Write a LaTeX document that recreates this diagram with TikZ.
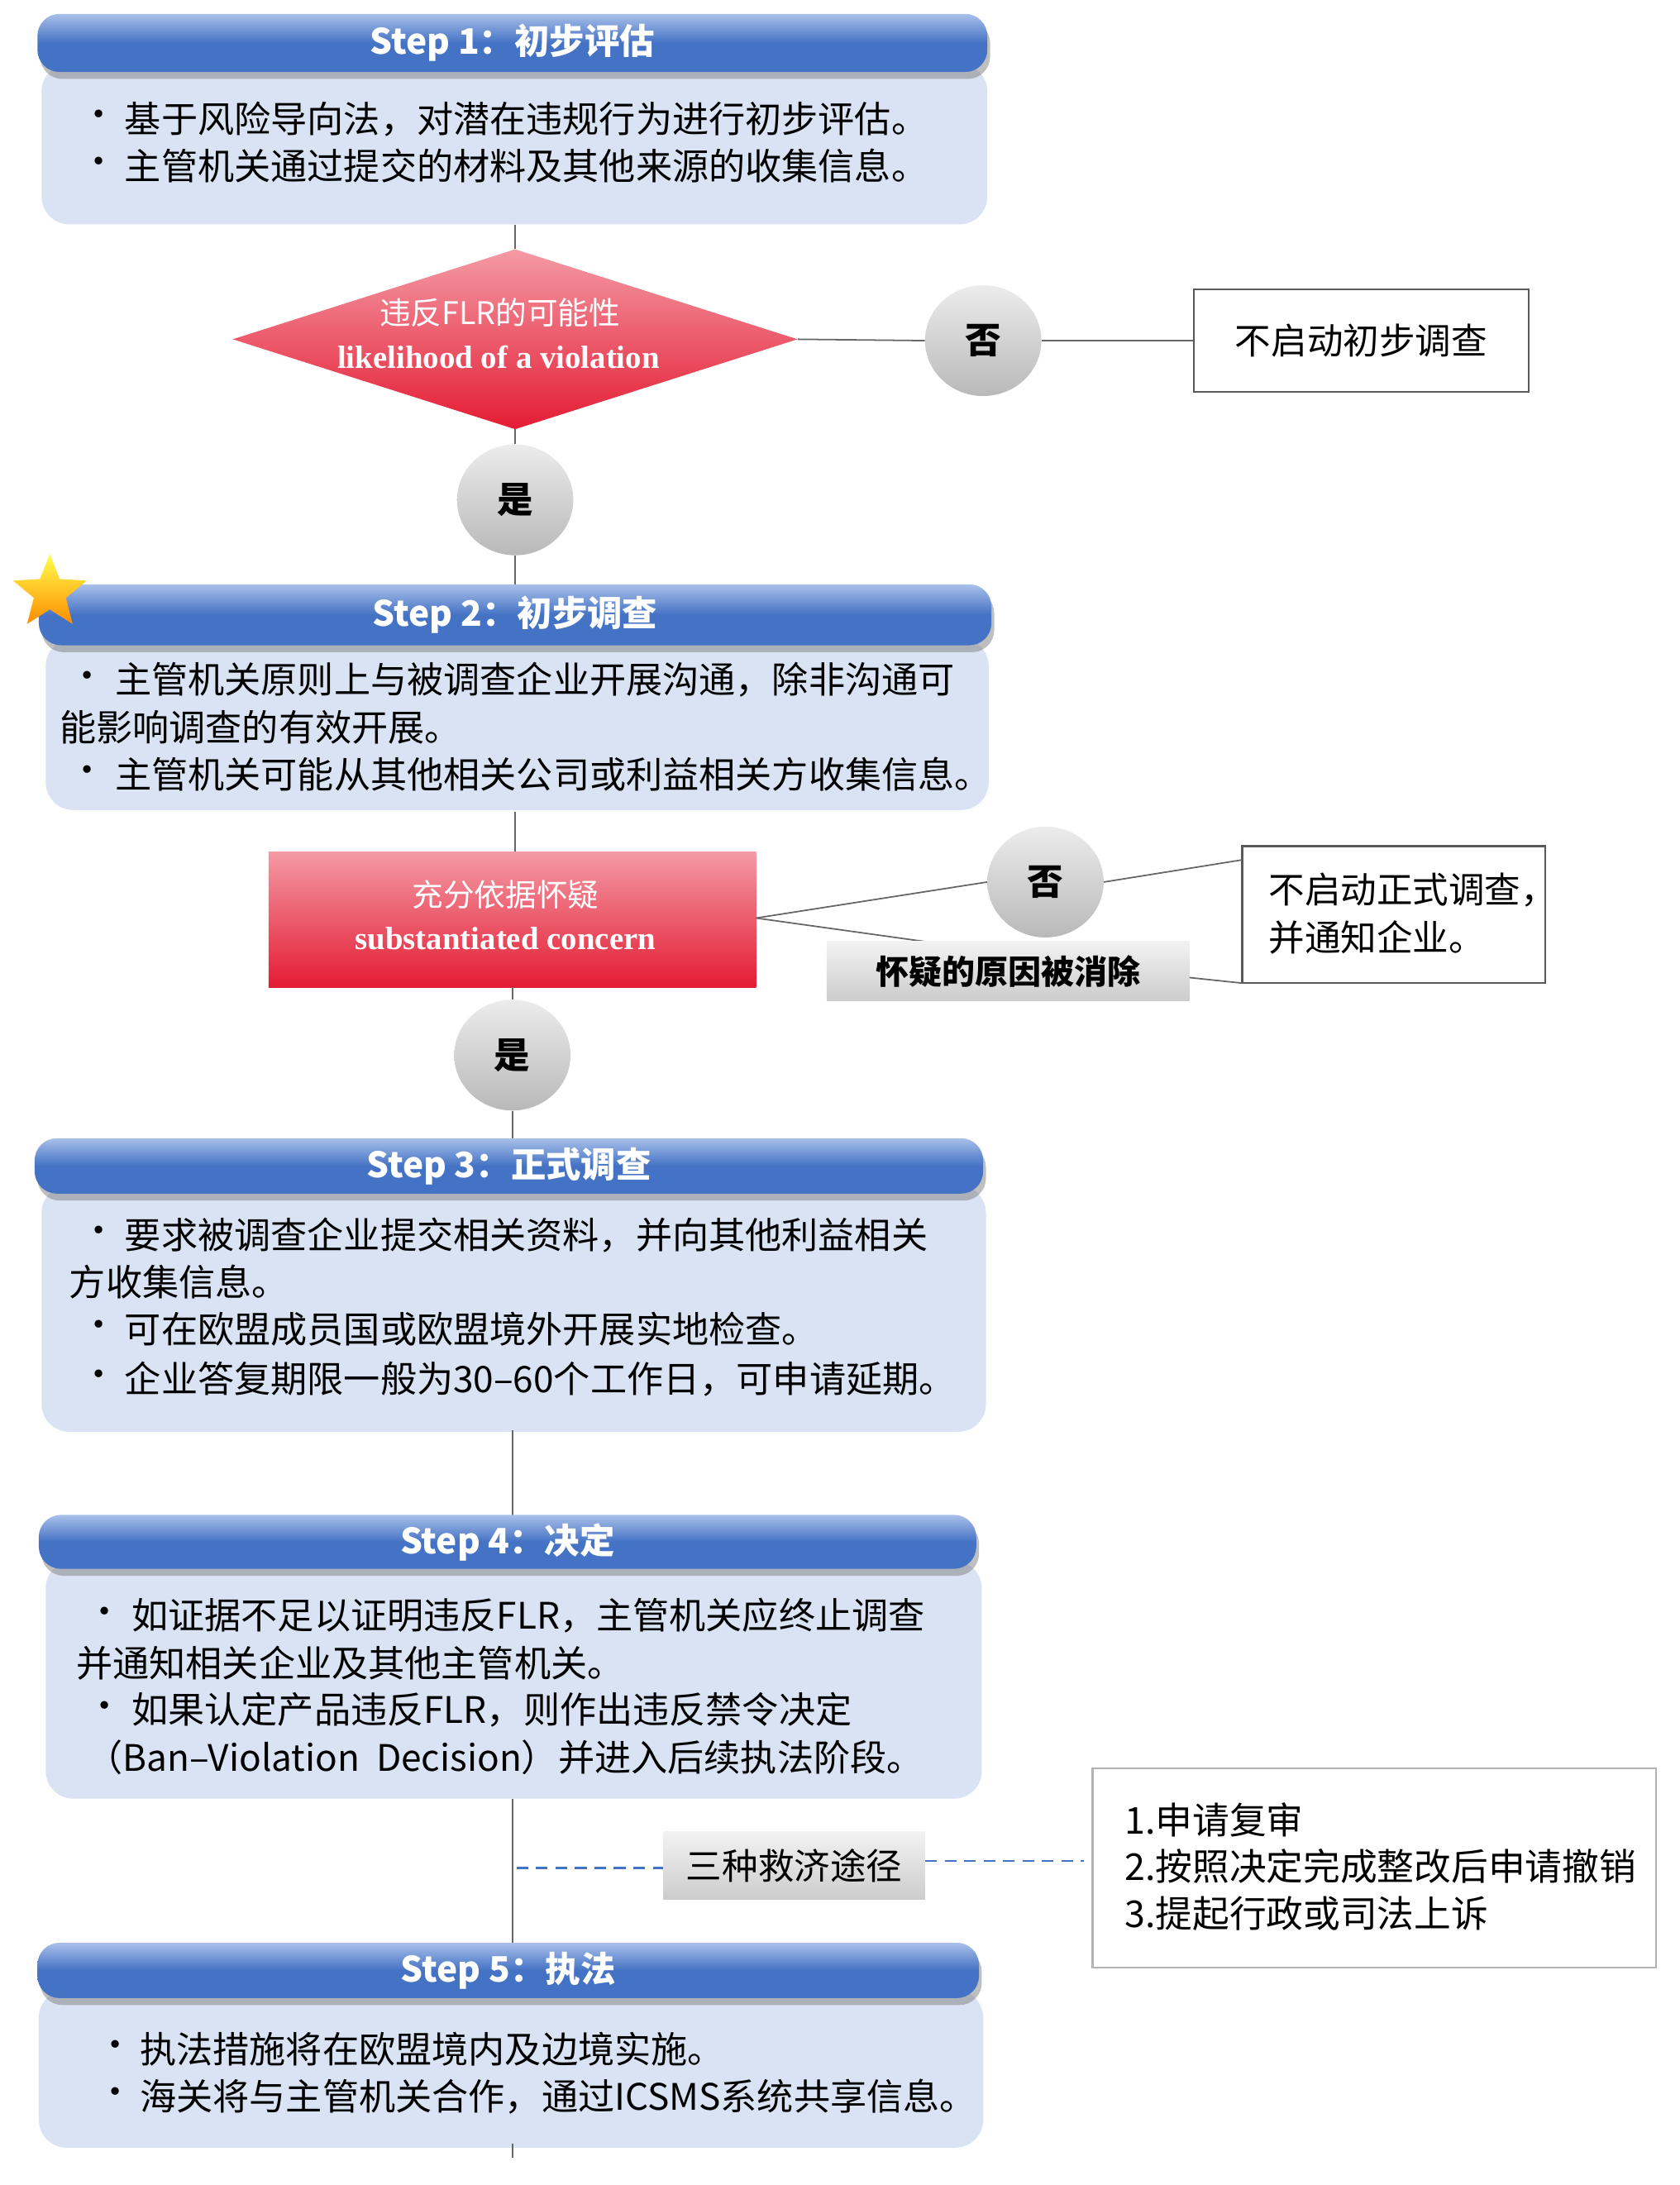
\documentclass[tikz,border=0pt]{standalone}
\usepackage{fontspec}
\setmainfont{Noto Sans CJK SC}
\newfontfamily\lserif{Liberation Serif}
\usetikzlibrary{shapes.geometric,shadows}
\definecolor{hblue}{HTML}{4472C4}
\definecolor{hlight}{HTML}{A9C0EA}
\definecolor{bfill}{HTML}{DAE3F3}
\definecolor{rred}{HTML}{E41C34}
\definecolor{rlight}{HTML}{F49AA4}
\begin{document}
\begin{tikzpicture}[x=0.05cm,y=-0.05cm,
 hdr/.style={draw=none,rounded corners=0.8cm,top color=hlight,bottom color=hblue,middle color=hblue,shading angle=0,
   drop shadow={shadow xshift=0.1cm,shadow yshift=-0.25cm,fill=black!50,opacity=0.5},
   text=white,font=\fontsize{36}{40}\selectfont\bfseries},
 body/.style={fill=bfill,draw=none,rounded corners=1cm},
 tx/.style={anchor=west,inner sep=0,font=\fontsize{37.5}{42}\selectfont},
 mt/.style={font=\fontsize{37}{42}\selectfont},
 conn/.style={draw=gray!80!black,line width=1.5pt},
 dconn/.style={draw=hblue,line width=2.2pt,dash pattern=on 12pt off 8pt},
 circ/.style={ellipse,minimum width=4.2cm,minimum height=4cm,inner sep=0,top color=gray!15,bottom color=gray!55,
   font=\fontsize{37}{40}\selectfont\bfseries},
 obox/.style={draw=gray!70!black,line width=2pt,fill=white},
 gbox/.style={top color=gray!10,bottom color=gray!40,inner sep=0},
 wt/.style={text=white,inner sep=0},
]
\useasboundingbox (0,0) rectangle (1213,1578);
% Step 1
\node[body,minimum width=34.15cm,minimum height=5.8cm] (b1) at (371.5,104) {};
\node[hdr,minimum width=34.3cm,minimum height=2.1cm] (h1) at (370,31) {Step 1：初步评估};
\node[tx] (t11) at (58,86) {•};
\node[tx] (t12) at (90,86) {基于风险导向法，对潜在违规行为进行初步评估。};
\node[tx] (t13) at (58,120) {•};
\node[tx] (t14) at (90,120) {主管机关通过提交的材料及其他来源的收集信息。};
% diamond
\node[diamond,minimum width=20.4cm,minimum height=6.5cm,inner sep=0,top color=rlight,bottom color=rred] (d1) at (372,245) {};
\node[wt,font=\fontsize{32}{34}\selectfont] (d1a) at (361,226) {违反FLR的可能性};
\node[wt,font=\lserif\fontsize{33}{36}\selectfont\bfseries] (d1b) at (360,258) {likelihood of a violation};
\node[circ] (n1) at (710,246) {否};
\node[obox,minimum width=12.1cm,minimum height=3.7cm,mt] (nb1) at (983,246) {不启动初步调查};
\draw[conn] (d1.east) -- (n1.west);
\draw[conn] (n1.east) -- (nb1.west);
\draw[conn] (b1.south -| d1.north) -- (d1.north);
\node[circ] (y1) at (372,361) {是};
\draw[conn] (d1.south) -- (y1.north);
% Step 2
\node[body,minimum width=34.05cm,minimum height=6.2cm] (b2) at (373.5,523) {};
\draw[conn] (y1.south) -- (y1.south |- 0,422);
\node[hdr,minimum width=34.4cm,minimum height=2.2cm] (h2) at (372,444) {Step 2：初步调查};
\node[star,star points=5,star point ratio=2.3,minimum size=2.8cm,inner sep=0,top color=yellow!70!white,bottom color=orange!90!yellow,draw=none] (st) at (36,428) {};
\node[tx] (t21) at (50,491) {•};
\node[tx] (t22) at (83,491) {主管机关原则上与被调查企业开展沟通，除非沟通可};
\node[tx] (t23) at (43,525) {能影响调查的有效开展。};
\node[tx] (t24) at (50,559) {•};
\node[tx] (t25) at (83,559) {主管机关可能从其他相关公司或利益相关方收集信息。};
% concern
\node[rectangle,minimum width=17.6cm,minimum height=4.9cm,inner sep=0,top color=rlight,bottom color=rred] (r2) at (370,664) {};
\node[wt,font=\fontsize{32}{34}\selectfont] (r2a) at (365,646) {充分依据怀疑};
\node[wt,font=\lserif\fontsize{33}{36}\selectfont\bfseries] (r2b) at (365,678) {substantiated concern};
\draw[conn] (372,586) -- (r2.north -| 372,0);
\node[circ] (n2) at (755,637) {否};
\node[obox,minimum width=10.95cm,minimum height=4.95cm] (nb2) at (1006.5,660.5) {};
\node[tx,mt] (nb2a) at (916,643) {不启动正式调查，};
\node[tx,mt] (nb2b) at (916,677) {并通知企业。};
\coordinate (r2e) at (546,663);
\coordinate (g2t) at (668,680);
\coordinate (nb2t) at (897,621);
\coordinate (nb2l) at (897,710);
\coordinate (g2r) at (859,706);
\draw[conn] (r2e) -- (n2.west);
\draw[conn] (n2.east) -- (nb2t);
\draw[conn] (r2e) -- (g2t);
\node[gbox,minimum width=13.1cm,minimum height=2.15cm,font=\fontsize{34}{38}\selectfont\bfseries] (g2) at (728,701.5) {怀疑的原因被消除};
\draw[conn] (g2r) -- (nb2l);
\node[circ] (y2) at (370,762) {是};
\draw[conn] (r2.south -| y2.north) -- (y2.north);
% Step 3
\node[body,minimum width=34.1cm,minimum height=8.9cm] (b3) at (371,945) {};
\draw[conn] (y2.south) -- (y2.south |- 0,823);
\node[hdr,minimum width=34.25cm,minimum height=2.0cm] (h3) at (367.5,842) {Step 3：正式调查};
\node[tx] (t31) at (58,892) {•};
\node[tx] (t32) at (90,892) {要求被调查企业提交相关资料，并向其他利益相关};
\node[tx] (t33) at (50,926) {方收集信息。};
\node[tx] (t34) at (58,960) {•};
\node[tx] (t35) at (90,960) {可在欧盟成员国或欧盟境外开展实地检查。};
\node[tx] (t36) at (58,996) {•};
\node[tx] (t37) at (90,996) {企业答复期限一般为30–60个工作日，可申请延期。};
% Step 4
\draw[conn] (370,1033) -- (370,1095);
\node[body,minimum width=33.8cm,minimum height=8.6cm] (b4) at (371,1213) {};
\node[hdr,minimum width=33.85cm,minimum height=1.95cm] (h4) at (366.5,1113.5) {Step 4：决定};
\node[tx] (t41) at (62,1167) {•};
\node[tx] (t42) at (95,1167) {如证据不足以证明违反FLR，主管机关应终止调查};
\node[tx] (t43) at (55,1201) {并通知相关企业及其他主管机关。};
\node[tx] (t44) at (62,1235) {•};
\node[tx] (t45) at (95,1235) {如果认定产品违反FLR，则作出违反禁令决定};
\node[tx] (t46) at (62,1269) {（Ban–Violation\ \ Decision）并进入后续执法阶段。};
% remedies
\coordinate (bot) at (370,1558);
\draw[conn] (370,1299) -- (bot);
\node[gbox,minimum width=9.45cm,minimum height=2.45cm,mt] (g4) at (573.5,1347.5) {三种救济途径};
\node[obox,draw=gray!60,minimum width=20.35cm,minimum height=7.2cm] (rb) at (992.5,1349) {};
\node[tx,font=\fontsize{38}{42}\selectfont] (r1) at (812,1314) {1.申请复审};
\node[tx,font=\fontsize{38}{42}\selectfont] (r2t) at (812,1348) {2.按照决定完成整改后申请撤销};
\node[tx,font=\fontsize{38}{42}\selectfont] (r3) at (812,1382) {3.提起行政或司法上诉};
\coordinate (dl) at (373,1349);
\coordinate (dr) at (783,1344);
\draw[dconn] (dl) -- (g4.west |- dl);
\draw[dconn] (g4.east |- dr) -- (dr);
% Step 5
\node[body,minimum width=34.1cm,minimum height=5.7cm] (b5) at (369,1494) {};
\draw[conn] (370,1548) -- (bot);
\node[hdr,minimum width=34cm,minimum height=2cm] (h5) at (367,1423) {Step 5：执法};
\node[tx] (t51) at (70,1480) {•};
\node[tx] (t52) at (101,1480) {执法措施将在欧盟境内及边境实施。};
\node[tx] (t53) at (70,1514) {•};
\node[tx] (t54) at (101,1514) {海关将与主管机关合作，通过ICSMS系统共享信息。};
\end{tikzpicture}
\end{document}
